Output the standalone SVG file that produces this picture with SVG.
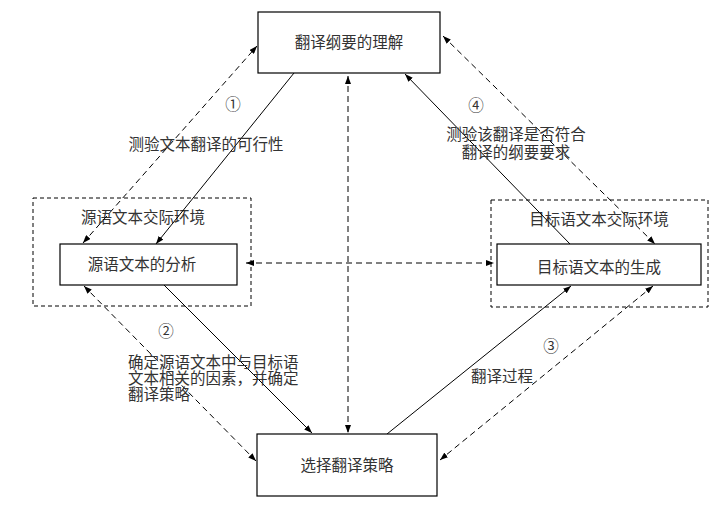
<svg xmlns="http://www.w3.org/2000/svg" width="718" height="505" viewBox="0 0 718 505">
<style>
.box{fill:#fff;stroke:#000;stroke-width:1.2}
.env{fill:none;stroke:#000;stroke-width:1;stroke-dasharray:4 3}
.t{font-family:"Noto Sans CJK SC","Noto Sans",sans-serif;font-size:15.5px;fill:#333}
.c{text-anchor:middle}
.solid{stroke:#000;stroke-width:1;fill:none;marker-end:url(#ah)}
.dash{stroke:#000;stroke-width:1;fill:none;stroke-dasharray:6 4;marker-start:url(#ah);marker-end:url(#ah)}
</style>
<defs>
<marker id="ah" markerUnits="userSpaceOnUse" markerWidth="8" markerHeight="6" refX="8" refY="3" orient="auto-start-reverse">
<path d="M0,0 L8,3 L0,6 z" fill="#000"/>
</marker>
</defs>
<rect width="718" height="505" fill="#fff"/>
<g id="env-source">
<rect class="env" x="33" y="198" width="218" height="108"/>
<text class="t c" x="143" y="223">源语文本交际环境</text>
</g>
<g id="env-target">
<rect class="env" x="491" y="200" width="217" height="107"/>
<text class="t c" x="599" y="225">目标语文本交际环境</text>
</g>
<g id="connectors">
<line class="solid" x1="294" y1="73" x2="156" y2="244"/>
<line class="solid" x1="163" y1="284" x2="312" y2="433"/>
<line class="solid" x1="387" y1="434" x2="571" y2="286"/>
<line class="solid" x1="570" y1="244" x2="405" y2="74"/>
<line class="dash" x1="83" y1="243" x2="257" y2="46"/>
<line class="dash" x1="443" y1="36" x2="655" y2="244"/>
<line class="dash" x1="653" y1="286" x2="440" y2="460"/>
<line class="dash" x1="256" y1="461" x2="84" y2="286"/>
<line class="dash" x1="348" y1="76" x2="348" y2="433"/>
<line class="dash" x1="246" y1="263" x2="494" y2="263"/>
</g>
<g id="node-top">
<rect class="box" x="258" y="12" width="182" height="61"/>
<text class="t c" x="349" y="48">翻译纲要的理解</text>
</g>
<g id="node-source">
<rect class="box" x="60" y="244" width="177" height="41"/>
<text class="t c" x="142" y="270">源语文本的分析</text>
</g>
<g id="node-target">
<rect class="box" x="497" y="244" width="204" height="41"/>
<text class="t c" x="599" y="273">目标语文本的生成</text>
</g>
<g id="node-bottom">
<rect class="box" x="257" y="434" width="180" height="62"/>
<text class="t c" x="347" y="471">选择翻译策略</text>
</g>
<g id="labels">
<text class="t c" x="233" y="110">①</text>
<text class="t c" x="206" y="150">测验文本翻译的可行性</text>
<text class="t c" x="476" y="111">④</text>
<text class="t c" x="516" y="140">测验该翻译是否符合</text>
<text class="t c" x="516" y="158">翻译的纲要要求</text>
<text class="t c" x="166" y="337">②</text>
<text class="t" x="128" y="368">确定源语文本中与目标语</text>
<text class="t" x="128" y="384">文本相关的因素，并确定</text>
<text class="t" x="128" y="400">翻译策略</text>
<text class="t c" x="551" y="352">③</text>
<text class="t" x="471" y="382">翻译过程</text>
</g>
</svg>
